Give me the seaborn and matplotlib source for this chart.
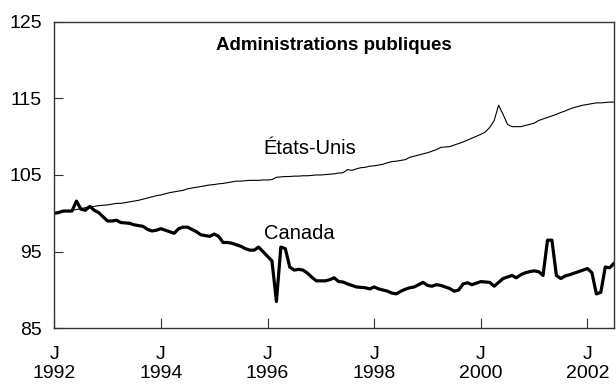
import pandas as pd
import matplotlib.pyplot as plt
import seaborn as sns

sns.set_theme(style="white")
plt.rcParams['font.family'] = ['Liberation Sans', 'DejaVu Sans']
plt.rcParams['text.color'] = 'black'

# Monthly index values, Jan 1992 - Jul 2002
canada = [
    100.0, 100.1, 100.3, 100.3, 100.3, 101.6, 100.55, 100.4, 100.9, 100.4, 100.1, 99.55,   # 1992
    99.0, 99.0, 99.1, 98.8, 98.75, 98.7, 98.5, 98.4, 98.3, 97.9, 97.7, 97.8,              # 1993
    98.0, 97.8, 97.6, 97.4, 98.0, 98.2, 98.2, 97.9, 97.6, 97.2, 97.1, 97.0,               # 1994
    97.3, 97.0, 96.2, 96.2, 96.1, 95.9, 95.7, 95.4, 95.2, 95.2, 95.6, 95.0,               # 1995
    94.4, 93.8, 88.5, 95.6, 95.4, 93.0, 92.6, 92.7, 92.6, 92.2, 91.65, 91.2,              # 1996
    91.2, 91.2, 91.35, 91.6, 91.1, 91.05, 90.8, 90.6, 90.4, 90.35, 90.3, 90.15,           # 1997
    90.4, 90.15, 90.0, 89.85, 89.6, 89.5, 89.85, 90.1, 90.3, 90.4, 90.7, 91.0,            # 1998
    90.6, 90.5, 90.7, 90.6, 90.4, 90.2, 89.85, 90.0, 90.8, 90.95, 90.7, 90.9,             # 1999
    91.1, 91.05, 91.0, 90.5, 91.0, 91.5, 91.7, 91.9, 91.6, 92.0, 92.25, 92.4,             # 2000
    92.5, 92.4, 91.9, 96.5, 96.5, 91.9, 91.5, 91.85, 92.0, 92.2, 92.4, 92.6,              # 2001
    92.8, 92.25, 89.5, 89.7, 93.0, 92.9, 93.5,                                            # 2002
]
etats_unis = [
    100.0, 100.1, 100.2, 100.3, 100.4, 100.5, 100.6, 100.75, 100.85, 100.9, 101.0, 101.05,
    101.1, 101.2, 101.3, 101.3, 101.4, 101.5, 101.6, 101.7, 101.85, 102.0, 102.15, 102.3,
    102.4, 102.55, 102.7, 102.8, 102.9, 103.0, 103.2, 103.3, 103.4, 103.5, 103.6, 103.7,
    103.75, 103.85, 103.9, 104.0, 104.1, 104.2, 104.2, 104.25, 104.3, 104.3, 104.3, 104.35,
    104.35, 104.4, 104.7, 104.75, 104.8, 104.8, 104.85, 104.85, 104.9, 104.9, 104.95, 105.0,
    105.0, 105.05, 105.1, 105.15, 105.25, 105.3, 105.7, 105.6, 105.8, 105.95, 106.0, 106.15,
    106.2, 106.3, 106.4, 106.6, 106.75, 106.8, 106.9, 107.0, 107.3, 107.45, 107.6, 107.75,
    107.9, 108.1, 108.3, 108.6, 108.65, 108.7, 108.9, 109.1, 109.3, 109.55, 109.8, 110.05,
    110.3, 110.6, 111.2, 112.1, 114.1, 112.9, 111.6, 111.3, 111.3, 111.3, 111.45, 111.6,
    111.75, 112.1, 112.3, 112.5, 112.7, 112.9, 113.15, 113.35, 113.6, 113.8, 113.95, 114.1,
    114.2, 114.3, 114.4, 114.4, 114.45, 114.5, 114.5,
]
years = ['1992', '1994', '1996', '1998', '2000', '2002']
tick_labels = ['J\n' + y for y in years]

df = pd.DataFrame({
    'mois': list(range(len(canada))) * 2,
    'indice': canada + etats_unis,
    'pays': ['Canada'] * len(canada) + ['États-Unis'] * len(etats_unis),
})

fig = plt.figure(figsize=(6.16, 3.85), dpi=100)
ax = fig.add_axes([0.088, 0.147, 0.909, 0.797])

sns.lineplot(data=df, x='mois', y='indice', hue='pays', size='pays',
             palette={'Canada': 'black', 'États-Unis': 'black'},
             sizes={'Canada': 2.3, 'États-Unis': 0.8},
             legend=False, ax=ax)

ax.set_xlim(0, len(canada) - 1)
ax.set_ylim(85, 125)
ax.set_yticks([85, 95, 105, 115, 125])
ax.set_xticks([i * 24 for i in range(len(years))])
ax.set_xticklabels(tick_labels)
ax.set_xlabel('')
ax.set_ylabel('')
ax.tick_params(axis='both', direction='in', labelsize=14, colors='black',
               bottom=True, left=True)
ax.tick_params(axis='y', length=6.5, width=0.8, pad=9, color='#333333')
ax.tick_params(axis='x', length=7, width=0.8, pad=12.5, color='#333333')
for s in ax.spines.values():
    s.set_visible(True)
    s.set_color('#333333')
    s.set_linewidth(1.0)

ax.text(0.5, 0.922, 'Administrations publiques', transform=ax.transAxes,
        ha='center', va='center', fontsize=13.5, fontweight='bold', color='black')
ax.text(57.5, 108.4, 'États-Unis', ha='center', va='center', fontsize=14.5, color='black')
ax.text(55.2, 97.4, 'Canada', ha='center', va='center', fontsize=14.5, color='black')

fig.savefig('out.png', dpi=100)
